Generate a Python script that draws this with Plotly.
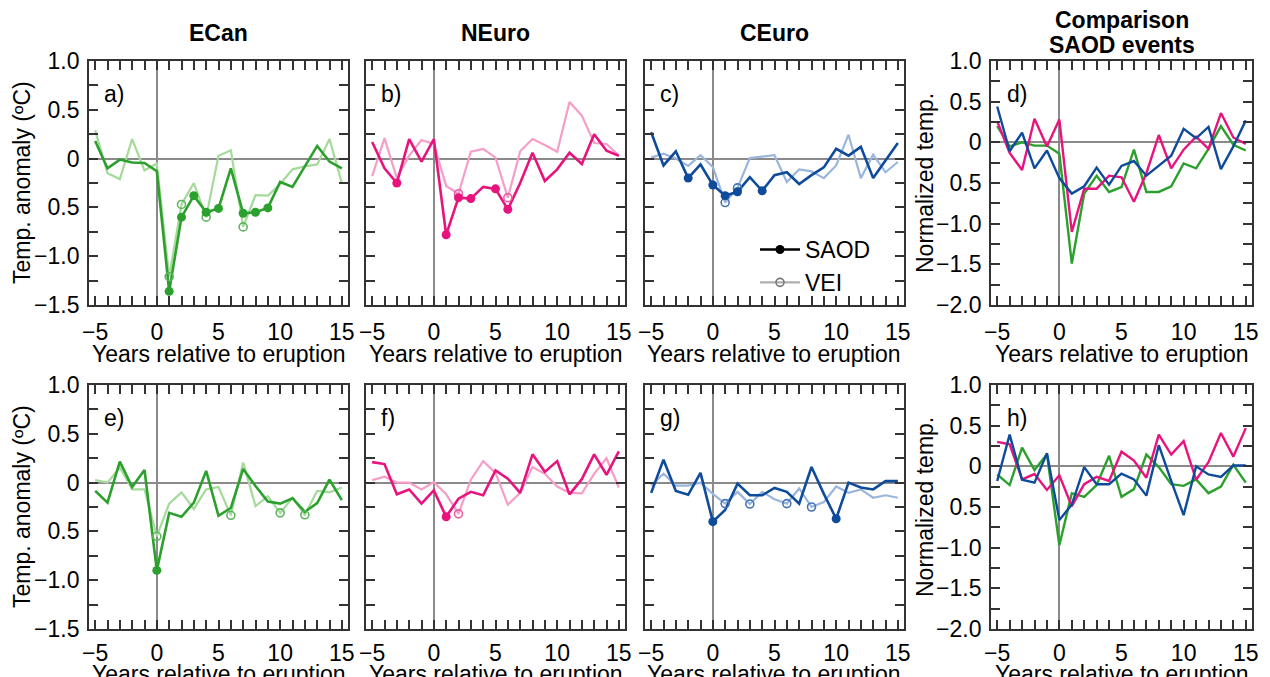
import plotly.graph_objects as go

# page is rendered with the browser's default 8px body margin
OFF = 8
PAGE_W, PAGE_H = 1270, 677
FW, FH = PAGE_W - OFF, PAGE_H - OFF

YEARS = list(range(-5, 16))

# ---------- Row 1 ----------
ECAN_SAOD_1 = [0.18, -0.10, -0.01, -0.04, -0.045, -0.13, -1.36, -0.60, -0.38, -0.55, -0.51,
               -0.10, -0.56, -0.55, -0.505, -0.24, -0.29, -0.085, 0.13, -0.03, -0.10]
ECAN_VEI_1 = [0.29, -0.15, -0.21, 0.20, -0.12, -0.05, -1.21, -0.47, -0.25, -0.60, 0.03,
              0.085, -0.70, -0.375, -0.38, -0.26, -0.11, -0.08, -0.06, 0.20, -0.25]
NEURO_SAOD_1 = [0.17, -0.10, -0.25, 0.20, -0.03, 0.20, -0.78, -0.40, -0.41, -0.29, -0.31,
                -0.52, -0.25, 0.06, -0.23, -0.11, 0.06, -0.055, 0.25, 0.08, 0.03]
NEURO_VEI_1 = [-0.18, 0.21, -0.20, 0.03, 0.19, 0.15, -0.28, -0.36, 0.07, 0.10, 0.01,
               -0.40, 0.075, 0.20, 0.14, 0.07, 0.58, 0.44, 0.16, 0.15, 0.03]
CEURO_SAOD_1 = [0.27, -0.07, 0.075, -0.20, -0.06, -0.27, -0.38, -0.34, -0.19, -0.33, -0.17,
                -0.14, -0.26, -0.17, -0.09, 0.10, 0.03, 0.12, -0.20, -0.02, 0.16]
CEURO_VEI_1 = [0.01, 0.05, 0.0, -0.075, 0.035, -0.085, -0.45, -0.30, 0.005, 0.02, 0.035,
               -0.24, -0.11, -0.13, -0.20, -0.07, 0.245, -0.20, 0.04, -0.14, -0.035]
COMP_GREEN_1 = [0.20, -0.05, 0.0, -0.04, -0.04, -0.14, -1.49, -0.63, -0.41, -0.61, -0.55,
                -0.09, -0.61, -0.61, -0.54, -0.26, -0.32, -0.08, 0.20, -0.03, -0.10]
COMP_PINK_1 = [0.26, -0.13, -0.34, 0.29, -0.05, 0.28, -1.10, -0.57, -0.57, -0.41, -0.43,
               -0.73, -0.38, 0.09, -0.32, -0.09, 0.07, -0.08, 0.36, 0.06, -0.02]
COMP_BLUE_1 = [0.44, -0.11, 0.12, -0.32, -0.10, -0.44, -0.63, -0.54, -0.31, -0.52, -0.29,
               -0.23, -0.41, -0.29, -0.165, 0.165, 0.05, 0.19, -0.33, -0.05, 0.27]

# ---------- Row 2 ----------
ECAN_SAOD_2 = [-0.085, -0.205, 0.215, -0.045, 0.13, -0.90, -0.31, -0.35, -0.205, 0.12, -0.34,
               -0.26, 0.14, -0.035, -0.195, -0.215, -0.16, -0.30, -0.21, 0.03, -0.18]
ECAN_VEI_2 = [0.025, 0.0, 0.155, -0.07, -0.07, -0.55, -0.215, -0.10, -0.27, -0.07, -0.045,
              -0.335, 0.205, -0.24, -0.14, -0.31, -0.155, -0.33, -0.085, -0.10, -0.05]
NEURO_SAOD_2 = [0.21, 0.19, -0.12, -0.07, -0.215, -0.08, -0.35, -0.165, -0.095, -0.13, 0.125,
                0.04, -0.105, 0.29, 0.11, 0.22, -0.12, 0.035, 0.29, 0.08, 0.32]
NEURO_VEI_2 = [0.025, 0.06, 0.0, 0.0, -0.07, 0.005, -0.12, -0.32, 0.03, 0.22, 0.10,
               -0.225, -0.105, 0.16, 0.09, -0.04, -0.105, -0.11, 0.09, 0.25, -0.05]
CEURO_SAOD_2 = [-0.105, 0.235, -0.085, -0.125, 0.10, -0.40, -0.28, -0.01, -0.13, -0.13, -0.055,
                -0.095, -0.215, 0.16, -0.115, -0.37, 0.0, -0.05, -0.07, 0.015, 0.015]
CEURO_VEI_2 = [-0.03, 0.09, -0.03, -0.03, 0.0, -0.115, -0.215, -0.095, -0.22, -0.095, -0.17,
               -0.215, -0.06, -0.25, -0.20, -0.04, -0.105, -0.07, -0.155, -0.13, -0.155]
COMP_GREEN_2 = [-0.10, -0.23, 0.23, -0.045, 0.15, -0.97, -0.33, -0.375, -0.23, 0.13, -0.375,
                -0.28, 0.145, -0.01, -0.22, -0.24, -0.16, -0.33, -0.25, 0.02, -0.20]
COMP_PINK_2 = [0.30, 0.27, -0.16, -0.095, -0.29, -0.11, -0.49, -0.22, -0.13, -0.18, 0.18,
               0.07, -0.14, 0.39, 0.145, 0.31, -0.165, 0.05, 0.41, 0.12, 0.47]
COMP_BLUE_2 = [-0.18, 0.39, -0.165, -0.20, 0.16, -0.66, -0.47, -0.01, -0.22, -0.22, -0.09,
               -0.16, -0.36, 0.26, -0.18, -0.60, 0.0, -0.10, -0.13, 0.01, 0.01]

# event years marked with filled (SAOD) / open (VEI) circles
EV_A_SAOD, EV_A_VEI = [1, 2, 3, 4, 5, 7, 8, 9], [1, 2, 4, 7]
EV_B_SAOD, EV_B_VEI = [-3, 1, 2, 3, 5, 6], [2, 6]
EV_C_SAOD, EV_C_VEI = [-2, 0, 1, 2, 4], [1, 2]
EV_E_SAOD, EV_E_VEI = [0], [0, 6, 10, 12]
EV_F_SAOD, EV_F_VEI = [1], [2]
EV_G_SAOD, EV_G_VEI = [0, 10], [1, 3, 6, 8]

COL_TITLES = [["ECan"], ["NEuro"], ["CEuro"], ["Comparison", "SAOD events"]]
PANEL_LABELS = ["a)", "b)", "c)", "d)", "e)", "f)", "g)", "h)"]
X_TITLE = "Years relative to eruption"
Y_TITLE_TEMP = "Temp. anomaly (\u00baC)"
Y_TITLE_NORM = "Normalized temp."

GREEN, GREEN_L, GREEN_M = "rgb(44,160,44)", "rgb(165,218,155)", "rgb(95,180,95)"
PINK, PINK_L, PINK_M = "rgb(232,20,125)", "rgb(246,158,200)", "rgb(236,95,165)"
BLUE, BLUE_L, BLUE_M = "rgb(15,75,155)", "rgb(155,182,220)", "rgb(70,115,185)"

FONT = "Liberation Sans, Arial, Helvetica, sans-serif"
FS = 23

# panel boxes in page pixels
cols_px = [(89, 348), (366, 625), (645, 904), (991, 1252)]
rows_px = [(61, 305), (385, 629)]


def fx(px):
    return (px - OFF) / FW


def fy(py):
    return 1 - (py - OFF) / FH


fig = go.Figure()


def ax(i):
    return ("x" if i == 0 else f"x{i+1}"), ("y" if i == 0 else f"y{i+1}")


def add_pair(i, saod, vei, ev_s, ev_v, dark, light, mid):
    xa, ya = ax(i)
    fig.add_trace(go.Scatter(x=YEARS, y=vei, mode="lines", line=dict(color=light, width=2.2),
                             xaxis=xa, yaxis=ya, showlegend=False))
    fig.add_trace(go.Scatter(x=YEARS, y=saod, mode="lines", line=dict(color=dark, width=2.6),
                             xaxis=xa, yaxis=ya, showlegend=False))
    fig.add_trace(go.Scatter(x=ev_v, y=[vei[YEARS.index(e)] for e in ev_v], mode="markers",
                             marker=dict(symbol="circle-open", size=8, color=mid, line=dict(width=1.6)),
                             xaxis=xa, yaxis=ya, showlegend=False))
    fig.add_trace(go.Scatter(x=ev_s, y=[saod[YEARS.index(e)] for e in ev_s], mode="markers",
                             marker=dict(symbol="circle", size=9, color=dark),
                             xaxis=xa, yaxis=ya, showlegend=False))


def add_comp(i, g, p, b):
    xa, ya = ax(i)
    for ser, c in ((g, GREEN), (p, PINK), (b, BLUE)):
        fig.add_trace(go.Scatter(x=YEARS, y=ser, mode="lines", line=dict(color=c, width=2.4),
                                 xaxis=xa, yaxis=ya, showlegend=False))


add_pair(0, ECAN_SAOD_1, ECAN_VEI_1, EV_A_SAOD, EV_A_VEI, GREEN, GREEN_L, GREEN_M)
add_pair(1, NEURO_SAOD_1, NEURO_VEI_1, EV_B_SAOD, EV_B_VEI, PINK, PINK_L, PINK_M)
add_pair(2, CEURO_SAOD_1, CEURO_VEI_1, EV_C_SAOD, EV_C_VEI, BLUE, BLUE_L, BLUE_M)
add_comp(3, COMP_GREEN_1, COMP_PINK_1, COMP_BLUE_1)
add_pair(4, ECAN_SAOD_2, ECAN_VEI_2, EV_E_SAOD, EV_E_VEI, GREEN, GREEN_L, GREEN_M)
add_pair(5, NEURO_SAOD_2, NEURO_VEI_2, EV_F_SAOD, EV_F_VEI, PINK, PINK_L, PINK_M)
add_pair(6, CEURO_SAOD_2, CEURO_VEI_2, EV_G_SAOD, EV_G_VEI, BLUE, BLUE_L, BLUE_M)
add_comp(7, COMP_GREEN_2, COMP_PINK_2, COMP_BLUE_2)

# legend entries (panel c)
fig.add_trace(go.Scatter(x=[None], y=[None], mode="lines+markers", name="SAOD",
                         line=dict(color="black", width=2.6), marker=dict(symbol="circle", size=9, color="black"),
                         xaxis="x3", yaxis="y3"))
fig.add_trace(go.Scatter(x=[None], y=[None], mode="lines+markers", name="VEI",
                         line=dict(color="rgb(175,175,175)", width=2.2),
                         marker=dict(symbol="circle-open", size=8, color="rgb(120,120,120)", line=dict(width=1.6)),
                         xaxis="x3", yaxis="y3"))


def ylabel(v):
    if abs(v) < 1e-9:
        return "0"
    if abs(v + 0.5) < 1e-9:
        return "0.5"
    s = f"{abs(v):.1f}"
    return ("\u2212" + s) if v < 0 else s


layout = dict(width=FW, height=FH, margin=dict(l=0, r=0, t=0, b=0), template="none",
              paper_bgcolor="white", plot_bgcolor="white",
              font=dict(family=FONT, size=FS, color="black"),
              showlegend=True,
              legend=dict(x=fx(755), y=fy(228), xanchor="left", yanchor="top",
                          bgcolor="rgba(0,0,0,0)", font=dict(size=FS), itemwidth=40,
                          tracegroupgap=0))

annotations = []


def note(text, xp, yp, **kw):
    d = dict(text=text, x=fx(xp), y=fy(yp), xref="paper", yref="paper", xanchor="center",
             yanchor="middle", showarrow=False, font=dict(size=FS, family=FONT, color="black"))
    d.update(kw)
    annotations.append(d)


for i in range(8):
    r, c = divmod(i, 4)
    x0, x1 = cols_px[c]
    y0, y1 = rows_px[r]
    comp = (c == 3)
    ylo, yhi = (-2.0, 1.0) if comp else (-1.5, 1.0)
    ytv = [ylo + 0.25 * k for k in range(int(round((yhi - ylo) / 0.25)) + 1)]
    ytt = [ylabel(v) if abs((v * 2) - round(v * 2)) < 1e-9 else "" for v in ytv]
    key = "" if i == 0 else str(i + 1)
    common = dict(ticks="inside", ticklen=9, tickwidth=1.5, tickcolor="#333",
                  showline=True, linecolor="#333", linewidth=1.8, mirror="ticks",
                  showgrid=False, zeroline=True, zerolinecolor="#8a8a8a", zerolinewidth=1.6,
                  tickfont=dict(size=FS, family=FONT, color="black"))
    layout["xaxis" + key] = dict(domain=[fx(x0), fx(x1)], anchor="y" + key, range=[-5.5, 15.5],
                                 tickmode="array", tickvals=YEARS,
                                 ticktext=[(str(v).replace("-", "\u2212") if v % 5 == 0 else "") for v in YEARS],
                                 ticklabelstandoff=(5 if r == 0 else 2), **common)
    layout["yaxis" + key] = dict(domain=[fy(y1), fy(y0)], anchor="x" + key, range=[ylo, yhi],
                                 tickmode="array", tickvals=ytv, ticktext=ytt,
                                 ticklabelstandoff=3,
                                 showticklabels=(c in (0, 3)), **common)
    # panel letter
    annotations.append(dict(text=PANEL_LABELS[i], x=0.052, y=0.925,
                            xref=("x" + key + " domain"), yref=("y" + key + " domain"),
                            xanchor="left", yanchor="top", showarrow=False,
                            font=dict(size=FS, family=FONT, color="black")))
    # x-axis title
    note(X_TITLE, (x0 + x1) / 2, y1 + (49 if r == 0 else 45))
    # y-axis titles
    if c == 0:
        note(Y_TITLE_TEMP, 22, (y0 + y1) / 2, textangle=-90)
    if c == 3:
        note(Y_TITLE_NORM, 925, (y0 + y1) / 2, textangle=-90)
    # column titles
    if r == 0:
        lines = COL_TITLES[c]
        if len(lines) == 1:
            note("<b>" + lines[0] + "</b>", (x0 + x1) / 2, 33)
        else:
            note("<b>" + lines[0] + "</b>", (x0 + x1) / 2, 20)
            note("<b>" + lines[1] + "</b>", (x0 + x1) / 2, 45)

layout["annotations"] = annotations
fig.update_layout(**layout)
fig.write_html("out.html")
